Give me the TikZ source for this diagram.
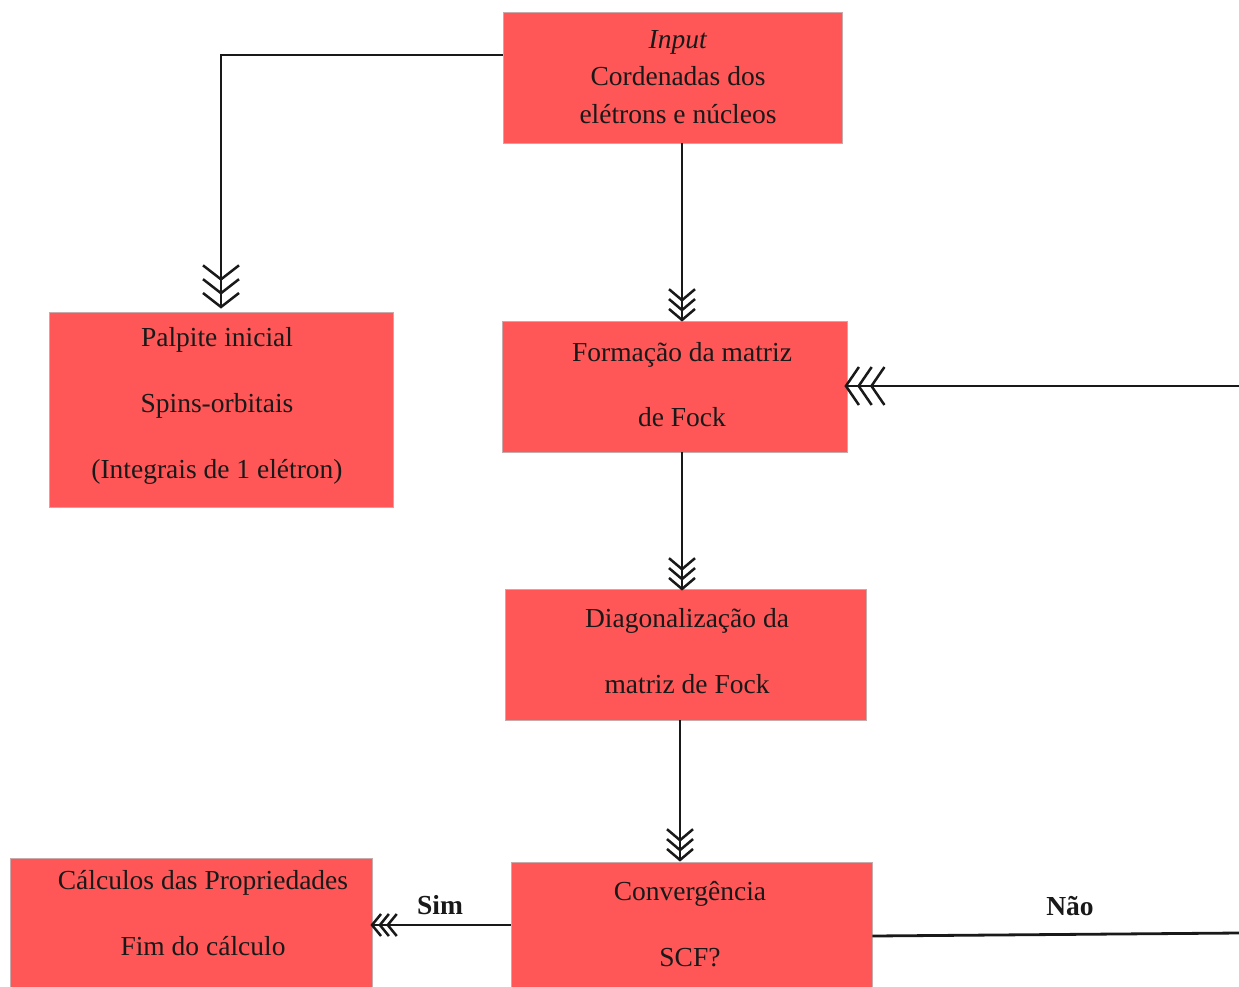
\documentclass[tikz,border=0pt]{standalone}
\usepackage{fontspec}
\setmainfont{Liberation Serif}
\usetikzlibrary{arrows.meta,calc}
\definecolor{boxred}{RGB}{255,87,87}
\definecolor{boxedge}{RGB}{200,170,170}
\definecolor{ink}{RGB}{25,25,25}
\tikzset{
  box/.style={draw=boxedge,line width=0.8pt,fill=boxred,rectangle,inner sep=0pt},
  txt/.style={align=center,text=ink,inner sep=0pt},
  conn/.style={draw=black!90,line width=2.8pt},
  chev/.style n args={3}{-{Straight Barb[length=#1,width=#2,line width=2.5pt,sep=#3]
     Straight Barb[length=#1,width=#2,line width=2.5pt,sep=#3]
     Straight Barb[length=#1,width=#2,line width=2.5pt,sep=#3]}},
  lbl/.style={font=\fontsize{27.5}{30}\selectfont\bfseries,text=ink,inner sep=0pt}
}
\begin{document}
\begin{tikzpicture}[x=1pt,y=-1pt]
\useasboundingbox (0,0) rectangle (1239,986);
\clip (0,0) rectangle (1239,986);
% boxes
\node[box,minimum width=339pt,minimum height=131pt] (input) at (672.5,77.5) {};
\node[box,minimum width=344pt,minimum height=195pt] (palpite) at (221,409.5) {};
\node[box,minimum width=345pt,minimum height=131pt] (formacao) at (674.5,386.5) {};
\node[box,minimum width=361pt,minimum height=131pt] (diag) at (685.5,654.5) {};
\node[box,minimum width=361pt,minimum height=140pt] (conv) at (691.5,932) {};
\node[box,minimum width=362pt,minimum height=140pt] (calc) at (191,928) {};
% texts
\node[txt,font=\fontsize{27.5}{37.5}\selectfont] (tinput) at (678,77) {\textit{Input}\\Cordenadas dos\\elétrons e núcleos};
\node[txt,font=\fontsize{27.5}{66}\selectfont] (tpalpite) at (217,406) {Palpite inicial\\Spins-orbitais\\(Integrais de 1 elétron)};
\node[txt,font=\fontsize{27.5}{65}\selectfont] (tformacao) at (682,385) {Formação da matriz\\de Fock};
\node[txt,font=\fontsize{27.5}{66}\selectfont] (tdiag) at (687,651) {Diagonalização da\\matriz de Fock};
\node[txt,font=\fontsize{27.5}{66}\selectfont] (tconv) at (690,924) {Convergência\\SCF?};
\node[txt,font=\fontsize{27.5}{66}\selectfont] (tcalc) at (203,913) {Cálculos das Propriedades\\Fim do cálculo};
% free ends
\coordinate (rin) at (1239,386);
\coordinate (rout) at (1239,933);
% connectors
\draw[conn,chev={14pt}{36pt}{-3pt}] ([yshift=22.5pt]input.west) -| ([yshift=6pt]palpite.north);
\draw[conn,chev={11pt}{26pt}{-4pt}] ([xshift=9.5pt]input.south) -- ([xshift=7.5pt,yshift=3pt]formacao.north);
\draw[conn,chev={11pt}{26pt}{-4pt}] ([xshift=7.5pt]formacao.south) -- ([xshift=-3.5pt,yshift=2pt]diag.north);
\draw[conn,chev={11pt}{26pt}{-4pt}] ([xshift=-5.5pt]diag.south) -- ([xshift=-11.5pt,yshift=4pt]conv.north);
\draw[conn,chev={13pt}{38pt}{-3pt}] (rin) -- (rin -| formacao.east);
\draw[conn,chev={9pt}{22pt}{-4pt}] ([yshift=7pt]conv.west) -- ([yshift=7pt,xshift=2pt]conv.west -| calc.east);
\draw[conn] ([yshift=-4pt]conv.east) -- (rout);
% labels
\node[lbl] (sim) at (440,905) {Sim};
\node[lbl] (nao) at (1070,906) {Não};
\end{tikzpicture}
\end{document}
